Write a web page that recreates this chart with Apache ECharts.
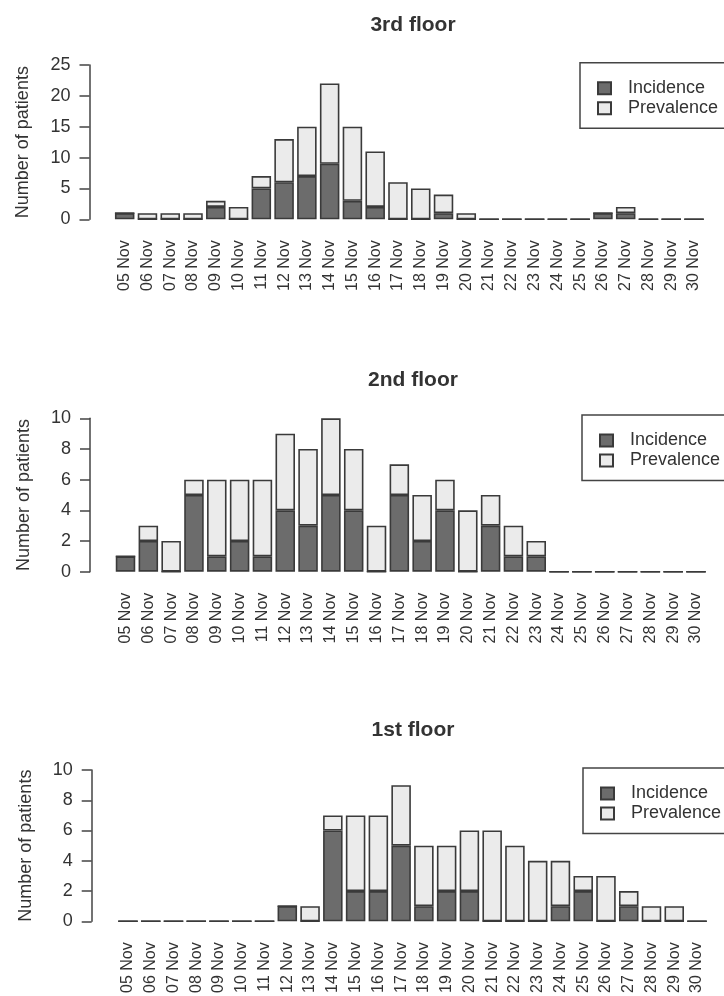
<!DOCTYPE html>
<html>
<head>
<meta charset="utf-8">
<script src="https://cdn.jsdelivr.net/npm/echarts@6/dist/echarts.min.js"></script>
<style>
html,body{margin:0;padding:0;background:#fff;}
#chart{width:724px;height:996px;}
</style>
</head>
<body>
<div id="chart"></div>
<script>
// ---- data ----
const days = ['05 Nov','06 Nov','07 Nov','08 Nov','09 Nov','10 Nov','11 Nov','12 Nov','13 Nov',
  '14 Nov','15 Nov','16 Nov','17 Nov','18 Nov','19 Nov','20 Nov','21 Nov','22 Nov','23 Nov',
  '24 Nov','25 Nov','26 Nov','27 Nov','28 Nov','29 Nov','30 Nov'];
const floorTitles = ['3rd floor', '2nd floor', '1st floor'];
// Incidence (new patients) per day
const incidence3 = [1,0,0,0,2,0,5,6,7,9,3,2,0,0,1,0,0,0,0,0,0,1,1,0,0,0];
const incidence2 = [1,2,0,5,1,2,1,4,3,5,4,0,5,2,4,0,3,1,1,0,0,0,0,0,0,0];
const incidence1 = [0,0,0,0,0,0,0,1,0,6,2,2,5,1,2,2,0,0,0,1,2,0,1,0,0,0];
// Prevalence (total patients) per day
const prevalence3 = [1,1,1,1,3,2,7,13,15,22,15,11,6,5,4,1,0,0,0,0,0,1,2,0,0,0];
const prevalence2 = [1,3,2,6,6,6,6,9,8,10,8,3,7,5,6,4,5,3,2,0,0,0,0,0,0,0];
const prevalence1 = [0,0,0,0,0,0,0,1,1,7,7,7,9,5,5,6,6,5,4,4,3,3,2,1,1,0];
const yMax = [25, 10, 10];
const yStep = [5, 2, 2];

const incidenceAll = [incidence3, incidence2, incidence1];
const prevalenceAll = [prevalence3, prevalence2, prevalence1];

// ---- layout ----
const FONT = '"Liberation Sans", Arial, Helvetica, sans-serif';
const TXT = '#333';
const EDGE = '#3a3a3a';
const DARK = '#6c6c6c';
const LIGHT = '#ebebeb';
const panels = [
  {top: 65,    height: 154.3, left: 113.3, right: 18.6, offset: 23.8, titleTop: 10,  legendLeft: 580, legendTop: 62.7},
  {top: 418.3, height: 153.4, left: 114.1, right: 16.6, offset: 24.1, titleTop: 365, legendLeft: 582, legendTop: 415},
  {top: 770,   height: 153.3, left: 116.6, right: 15.6, offset: 24.9, titleTop: 715, legendLeft: 583, legendTop: 768}
];

const option = {
  backgroundColor: '#fff',
  animation: false,
  textStyle: {fontFamily: FONT, color: TXT},
  title: [], grid: [], xAxis: [], yAxis: [], series: [], legend: []
};

panels.forEach((p, i) => {
  option.title.push({
    text: floorTitles[i], left: 408, top: p.titleTop, textAlign: 'center',
    textStyle: {fontFamily: FONT, fontSize: 21, fontWeight: 'bold', color: TXT}
  });
  option.grid.push({top: p.top, height: p.height, left: p.left, right: p.right});
  option.xAxis.push({
    type: 'category', gridIndex: i, data: days,
    axisLine: {show: false}, axisTick: {show: false},
    axisLabel: {rotate: 90, margin: 21, fontSize: 16, color: TXT, fontFamily: FONT, interval: 0,
      padding: [0, 0, 0, 0]}
  });
  option.yAxis.push({
    type: 'value', gridIndex: i, min: 0, max: yMax[i], interval: yStep[i], offset: p.offset,
    name: 'Number of patients', nameLocation: 'middle', nameGap: 57,
    nameTextStyle: {fontSize: 18, color: TXT, fontFamily: FONT},
    axisLine: {show: true, lineStyle: {color: '#444', width: 1.5}},
    axisTick: {show: true, length: 10, lineStyle: {color: '#444', width: 1.5}},
    axisLabel: {fontSize: 18, color: TXT, margin: 19, fontFamily: FONT},
    splitLine: {show: false}
  });
  const inc = incidenceAll[i];
  const prev = prevalenceAll[i];
  option.series.push({
    name: 'Incidence', type: 'bar', xAxisIndex: i, yAxisIndex: i, stack: 'f' + i,
    data: inc, barWidth: 19.5,
    itemStyle: {color: DARK, borderColor: EDGE, borderWidth: 1.6}
  });
  option.series.push({
    name: 'Prevalence', type: 'bar', xAxisIndex: i, yAxisIndex: i, stack: 'f' + i,
    data: prev.map((v, k) => v - inc[k]), barWidth: 19.5,
    itemStyle: {color: LIGHT, borderColor: EDGE, borderWidth: 1.6}
  });
  option.legend.push({
    data: [{name: 'Incidence', icon: 'rect'}, {name: 'Prevalence', icon: 'rect'}], orient: 'vertical',
    left: p.legendLeft, top: p.legendTop,
    padding: [15.5, 30, 10, 17], itemGap: 0, itemWidth: 13, itemHeight: 12,
    borderColor: '#444', borderWidth: 1.5, borderRadius: 0,
    selectedMode: false,
    textStyle: {fontSize: 18, color: TXT, fontFamily: FONT, lineHeight: 20, padding: [0, 0, 0, 12]}
  });
});

const chart = echarts.init(document.getElementById('chart'), null, {renderer: 'canvas'});
chart.setOption(option);
</script>
</body>
</html>
